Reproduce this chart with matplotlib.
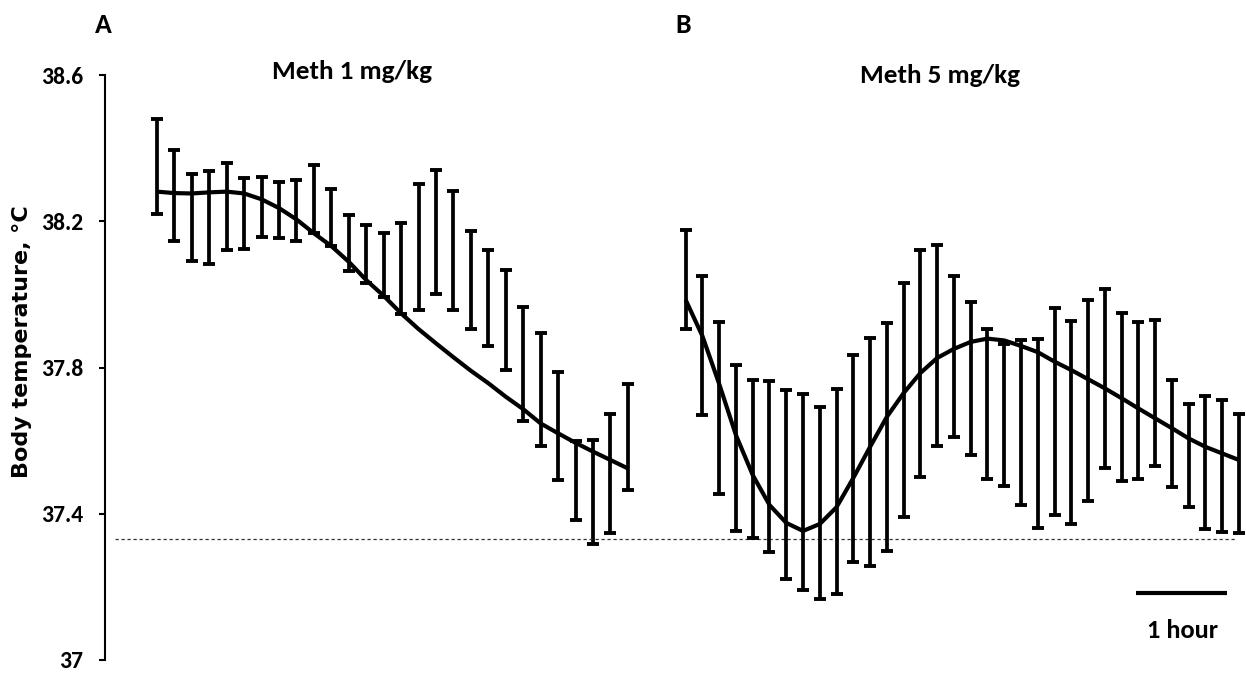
import matplotlib
matplotlib.use("Agg")
import matplotlib.pyplot as plt
import matplotlib.transforms as mtransforms
import numpy as np

plt.rcParams["font.family"] = ["Carlito", "Liberation Sans Narrow", "Liberation Sans", "DejaVu Sans"]
plt.rcParams["font.weight"] = "bold"

# body temperature (mean, SEM) at each sampling point, plus the fitted trend
temp_a_mean = [38.35, 38.27, 38.21, 38.21, 38.24, 38.22, 38.24, 38.23, 38.23, 38.26,
               38.21, 38.14, 38.11, 38.08, 38.07, 38.13, 38.17, 38.12, 38.04, 37.99,
               37.93, 37.81, 37.74, 37.64, 37.49, 37.46, 37.51, 37.61]
temp_a_sem = [0.129, 0.124, 0.118, 0.127, 0.118, 0.097, 0.082, 0.076, 0.084, 0.093,
              0.078, 0.077, 0.079, 0.087, 0.125, 0.172, 0.169, 0.162, 0.134, 0.131,
              0.137, 0.155, 0.154, 0.147, 0.108, 0.142, 0.162, 0.145]
fit_a = [38.281, 38.277, 38.276, 38.279, 38.281, 38.276, 38.260, 38.236, 38.205, 38.167,
         38.132, 38.089, 38.039, 37.996, 37.948, 37.905, 37.866, 37.828, 37.791, 37.757,
         37.720, 37.686, 37.647, 37.620, 37.594, 37.570, 37.547, 37.524]

temp_b_mean = [38.04, 37.86, 37.69, 37.58, 37.55, 37.53, 37.48, 37.46, 37.43, 37.46,
               37.55, 37.57, 37.61, 37.71, 37.81, 37.86, 37.83, 37.77, 37.70, 37.67,
               37.65, 37.62, 37.68, 37.65, 37.71, 37.77, 37.72, 37.71, 37.73, 37.62,
               37.56, 37.54, 37.53, 37.51]
temp_b_sem = [0.136, 0.189, 0.235, 0.226, 0.216, 0.234, 0.258, 0.268, 0.262, 0.280,
              0.283, 0.312, 0.313, 0.320, 0.310, 0.276, 0.220, 0.210, 0.205, 0.194,
              0.225, 0.258, 0.283, 0.277, 0.275, 0.244, 0.230, 0.214, 0.200, 0.146,
              0.141, 0.181, 0.180, 0.163]
fit_b = [37.985, 37.886, 37.755, 37.615, 37.506, 37.424, 37.375, 37.353, 37.372, 37.418,
         37.498, 37.583, 37.665, 37.730, 37.785, 37.826, 37.851, 37.870, 37.879, 37.874,
         37.859, 37.842, 37.816, 37.793, 37.768, 37.743, 37.716, 37.688, 37.661, 37.634,
         37.606, 37.583, 37.565, 37.547]

baseline = 37.33
y_ticks = [37, 37.4, 37.8, 38.2, 38.6]
y_ticklabels = ["37", "37.4", "37.8", "38.2", "38.6"]

W, H = 1246, 673
fig = plt.figure(figsize=(W / 100, H / 100), dpi=100)

bottom = (H - 660) / H
height = (660 - 75) / H
ax_a = fig.add_axes([105 / W, bottom, (645.3 - 105) / W, height])
ax_b = fig.add_axes([660.5 / W, bottom, (1244 - 660.5) / W, height])

bar_kw = dict(fmt="none", ecolor="black", elinewidth=2.7, capsize=4.2, capthick=2.8)

xa = np.arange(len(temp_a_mean))
ax_a.errorbar(xa, temp_a_mean, yerr=temp_a_sem, **bar_kw)
ax_a.plot(xa, fit_a, color="black", lw=3, solid_joinstyle="round", solid_capstyle="butt")
ax_a.set_xlim(-2.98, 28)

xb = np.arange(len(temp_b_mean))
ax_b.errorbar(xb, temp_b_mean, yerr=temp_b_sem, **bar_kw)
ax_b.plot(xb, fit_b, color="black", lw=3, solid_joinstyle="round", solid_capstyle="butt")
ax_b.set_xlim(-1.5, 33.3)

for ax in (ax_a, ax_b):
    ax.set_ylim(37, 38.6)
    ax.patch.set_visible(False)
    for s in ax.spines.values():
        s.set_visible(False)
    ax.set_xticks([])

ax_a.spines["left"].set_visible(True)
ax_a.spines["left"].set_linewidth(1.5)
ax_a.set_yticks(y_ticks)
ax_a.set_yticklabels(y_ticklabels)
ax_a.tick_params(axis="y", length=4.5, width=1.5, pad=11, labelsize=17)
ax_b.set_yticks([])

# control level line running across both panels
trans = mtransforms.blended_transform_factory(fig.transFigure, ax_a.transData)
ax_a.plot([115 / W, 1235 / W], [baseline, baseline], transform=trans, clip_on=False,
          color="#333333", lw=0.9, dashes=(2.6, 2.2))

# 1 hour scale bar
ax_b.plot([26.86, 32.28], [37.182, 37.182], color="black", lw=3, solid_capstyle="butt",
          clip_on=False)
ax_b.text(29.66, 37.082, "1 hour", ha="center", va="center", fontsize=19)

fig.text(352 / W, 1 - 79 / H, "Meth 1 mg/kg", ha="center", va="baseline", fontsize=19.5)
fig.text(940 / W, 1 - 83 / H, "Meth 5 mg/kg", ha="center", va="baseline", fontsize=19.5)
fig.text(95 / W, 1 - 33 / H, "A", ha="left", va="baseline", fontsize=20)
fig.text(675 / W, 1 - 33 / H, "B", ha="left", va="baseline", fontsize=20)
fig.text(22 / W, 1 - 342 / H, "Body temperature, \u00b0C", rotation=90, ha="center",
         va="center", fontsize=16, family="DejaVu Sans", weight="bold")

fig.savefig("out.png", dpi=100)
